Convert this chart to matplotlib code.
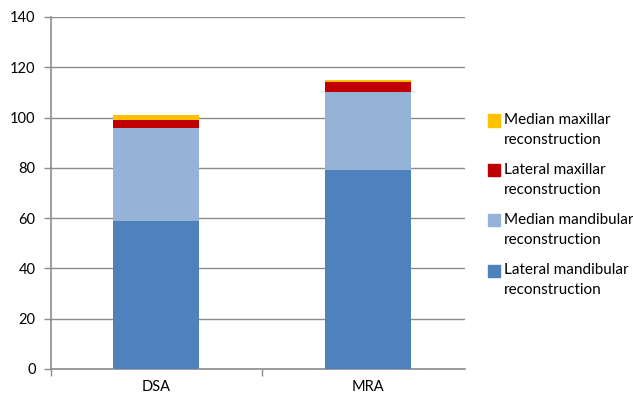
import matplotlib
matplotlib.use("Agg")
import matplotlib.pyplot as plt
from matplotlib.patches import Rectangle
import numpy as np

categories = ["DSA", "MRA"]
series_names = ["Lateral mandibular\nreconstruction",
                "Median mandibular\nreconstruction",
                "Lateral maxillar\nreconstruction",
                "Median maxillar\nreconstruction"]
lateral_mandibular = [59, 79]
median_mandibular = [37, 31]
lateral_maxillar = [3, 4]
median_maxillar = [2, 1]
colors = ["#4F81BD", "#95B3D7", "#C00000", "#FFC000"]
yticks = [0, 20, 40, 60, 80, 100, 120, 140]

plt.rcParams['font.family'] = ['Lato', 'DejaVu Sans']

W, H = 633, 401
fig = plt.figure(figsize=(W/100, H/100), dpi=100)
ax = fig.add_axes([51/W, 32/H, 414/W, 352/H])

x = np.arange(len(categories))
bottom = np.zeros(len(categories))
for vals, name, c in zip([lateral_mandibular, median_mandibular, lateral_maxillar, median_maxillar],
                         series_names, colors):
    ax.bar(x, vals, bottom=bottom, width=0.405, color=c, label=name, zorder=3)
    bottom += np.array(vals)

ax.set_ylim(0, 140)
ax.set_xlim(-0.495, 1.458)
ax.set_yticks(yticks)
ax.yaxis.grid(True, color="#8c8c8c", linewidth=1.0, zorder=0)
ax.set_xticks(x)
ax.set_xticklabels(categories, fontsize=10.5)
ax.tick_params(axis='x', length=0, pad=8)
ax.set_xticks([-0.495, 0.5], minor=True)
ax.tick_params(axis='x', which='minor', length=5, color="#8c8c8c", width=1)
ax.tick_params(axis='y', length=5, color="#8c8c8c", width=1, labelsize=10.5, pad=6)
for s in ["top", "right"]:
    ax.spines[s].set_visible(False)
for s in ["left", "bottom"]:
    ax.spines[s].set_color("#8c8c8c")
    ax.spines[s].set_linewidth(1.2)

# legend (manual, reversed order, swatch aligned with first text line)
for i, (name, c) in enumerate(zip(series_names[::-1], colors[::-1])):
    yc = 120.5 + 50 * i
    fig.add_artist(Rectangle((488/W, 1 - (yc + 6)/H), 12/W, 12/H,
                             transform=fig.transFigure, color=c))
    first, second = name.split("\n")
    fig.text(504/W, 1 - yc/H, first, fontsize=11, va="center", ha="left")
    fig.text(504/W, 1 - (yc + 20)/H, second, fontsize=11, va="center", ha="left")

fig.savefig("out.png", dpi=100)
